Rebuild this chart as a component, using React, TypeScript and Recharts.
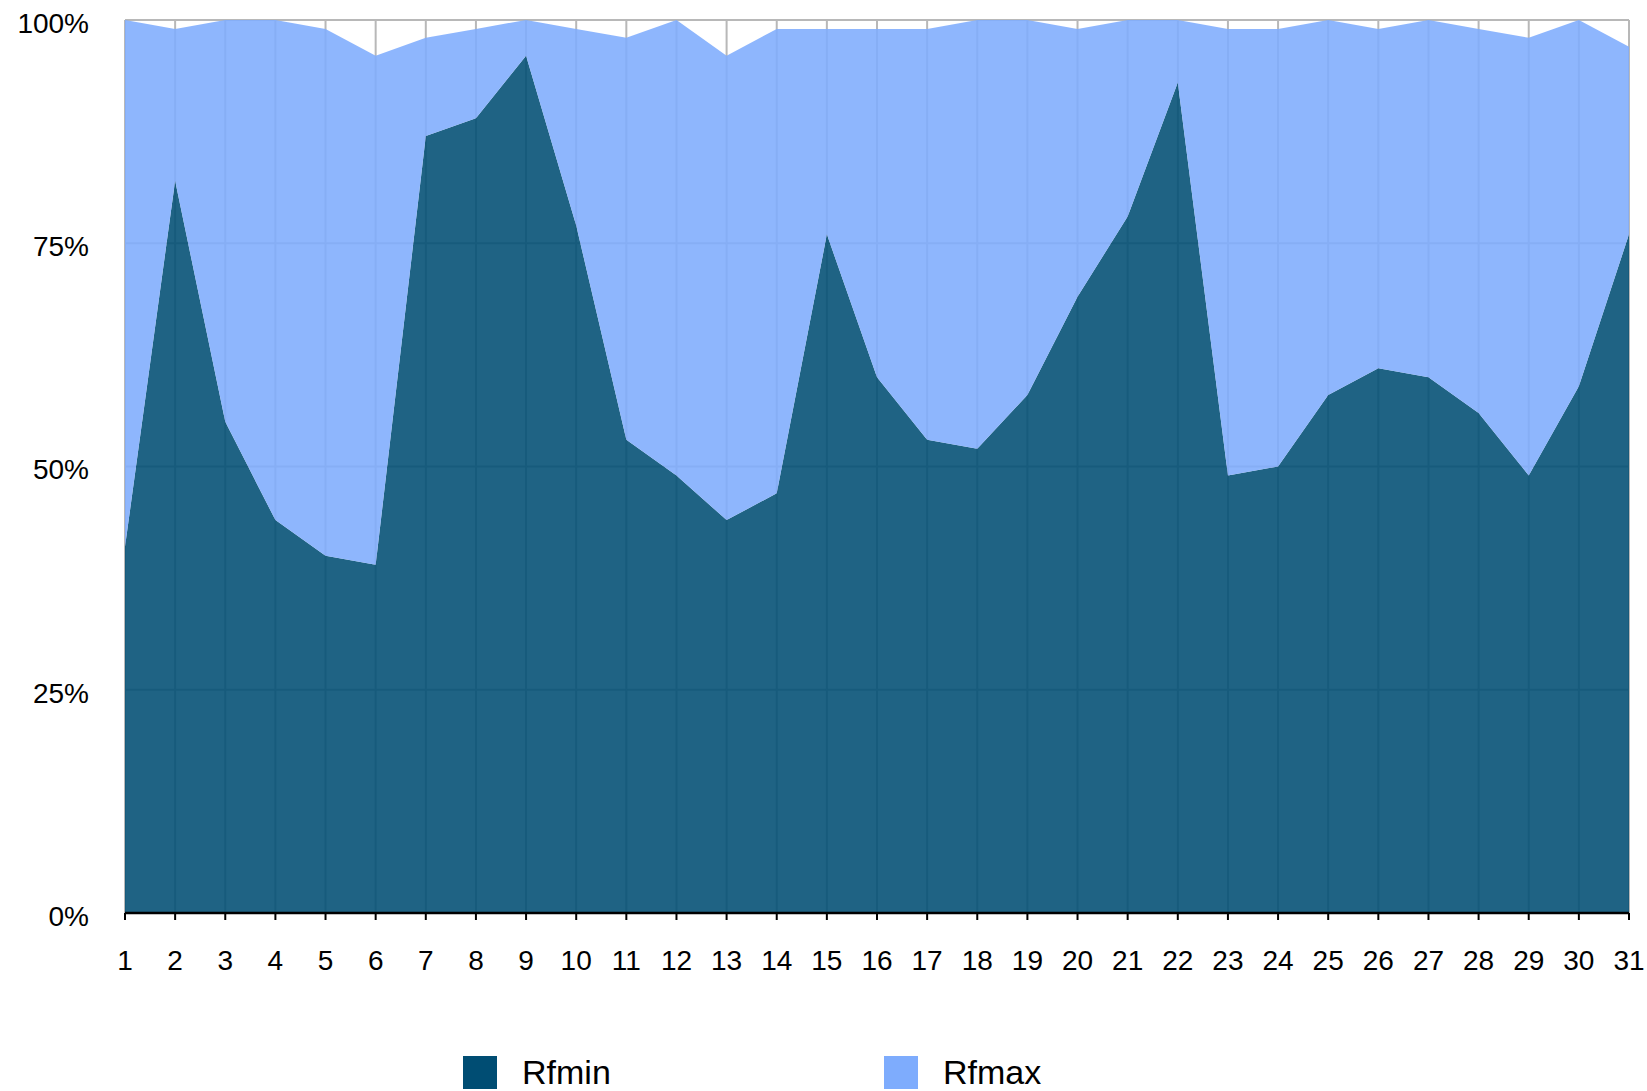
import { AreaChart, Area, XAxis, YAxis, CartesianGrid } from "recharts"

const days = [
  "1", "2", "3", "4", "5", "6", "7", "8", "9", "10", "11", "12", "13", "14", "15", "16",
  "17", "18", "19", "20", "21", "22", "23", "24", "25", "26", "27", "28", "29", "30", "31",
]

const rfmin = [
  41, 82, 55, 44, 40, 39, 87, 89, 96, 77, 53, 49, 44, 47, 76, 60,
  53, 52, 58, 69, 78, 93, 49, 50, 58, 61, 60, 56, 49, 59, 76,
]

const rfmax = [
  59, 17, 45, 56, 59, 57, 11, 10, 4, 22, 45, 51, 52, 52, 23, 39,
  46, 48, 42, 30, 22, 7, 50, 49, 42, 38, 40, 43, 49, 41, 21,
]

const yTicks = [0, 25, 50, 75, 100]

const series = [
  { key: "Rfmin", color: "#004d73" },
  { key: "Rfmax", color: "#7eacfd" },
]

const data = days.map((day, i) => ({ day, Rfmin: rfmin[i], Rfmax: rfmax[i] }))

const font = "'Liberation Sans', Arial, sans-serif"

export default function App() {
  return (
    <div style={{ position: "absolute", left: 0, top: 0, width: 1647, height: 1091, background: "#fff" }}>
      <AreaChart
        width={1647}
        height={1091}
        data={data}
        margin={{ top: 20, right: 18, bottom: 0, left: 0 }}
      >
        <CartesianGrid stroke="#b8b8b8" strokeWidth={2} />
        <XAxis
          dataKey="day"
          height={178}
          tickSize={7}
          tickMargin={30}
          axisLine={{ stroke: "#000", strokeWidth: 2.5 }}
          tickLine={{ stroke: "#000", strokeWidth: 2 }}
          tick={{ fill: "#000", fontSize: 28, fontFamily: font }}
          interval={0}
        />
        <YAxis
          width={125}
          domain={[0, 100]}
          ticks={yTicks}
          tickFormatter={(v) => `${v}%`}
          axisLine={false}
          tickLine={false}
          tickSize={0}
          tickMargin={36}
          tick={{ fill: "#000", fontSize: 28, fontFamily: font, dy: 3 }}
        />
        {series.map((s) => (
          <Area
            key={s.key}
            dataKey={s.key}
            stackId="a"
            type="linear"
            stroke="none"
            fill={s.color}
            fillOpacity={0.88}
            isAnimationActive={false}
          />
        ))}
      </AreaChart>

      {/* legend */}
      {series.map((s, i) => (
        <div
          key={s.key}
          style={{
            position: "absolute",
            top: 1056,
            left: 463 + i * 421,
            display: "flex",
            alignItems: "center",
            fontFamily: font,
            fontSize: 34,
            color: "#000",
          }}
        >
          <span style={{ width: 34, height: 33, background: s.color, display: "inline-block" }} />
          <span style={{ marginLeft: 25, lineHeight: "33px" }}>{s.key}</span>
        </div>
      ))}
    </div>
  )
}
